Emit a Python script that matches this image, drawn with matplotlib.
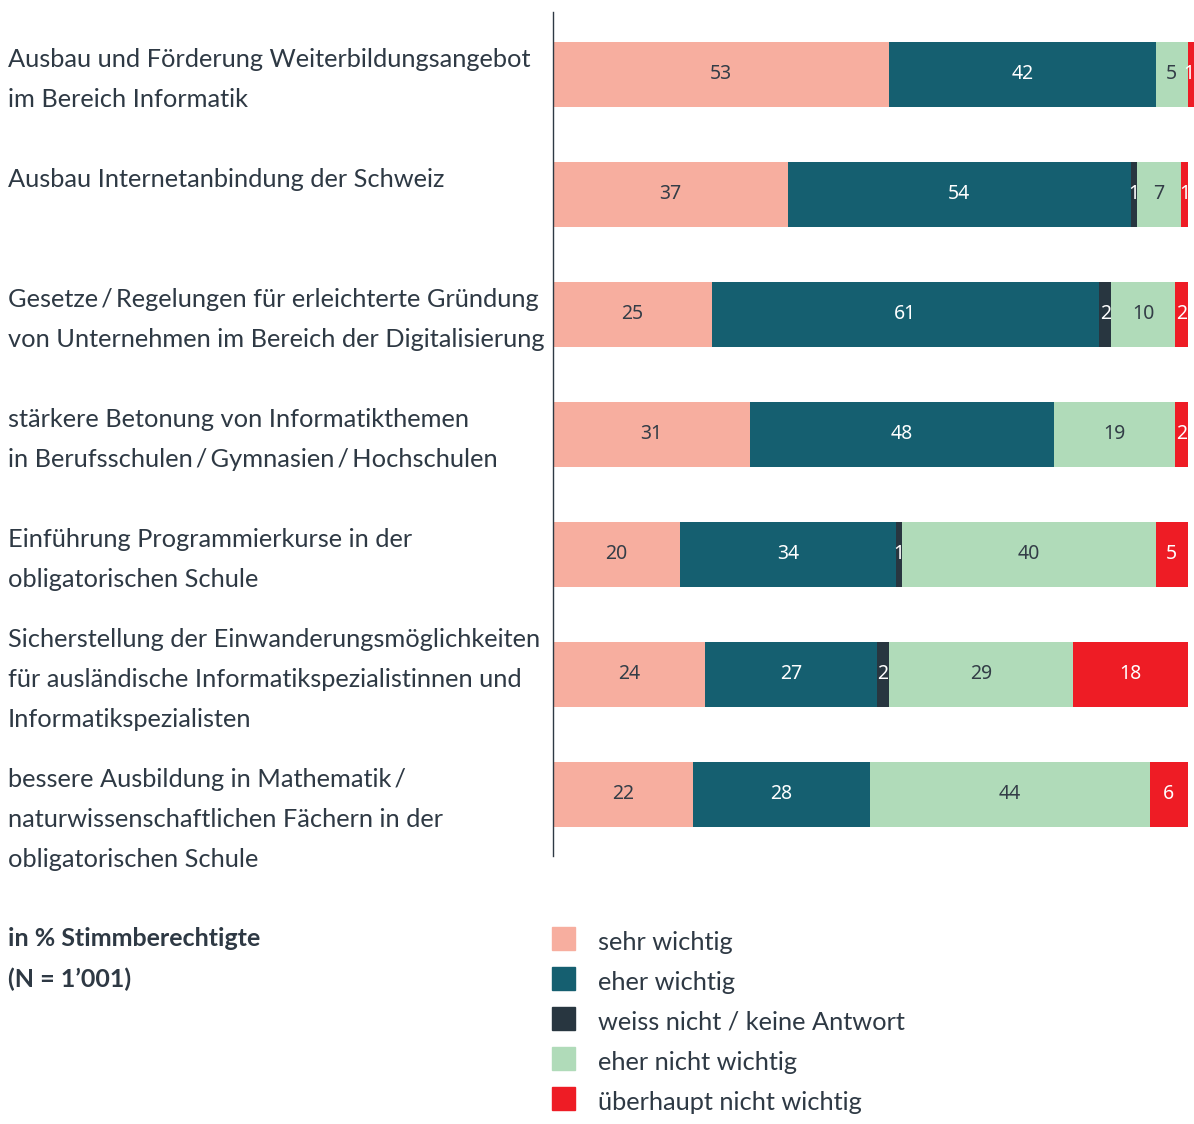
import matplotlib.pyplot as plt
from matplotlib.patches import Rectangle

W, H = 1194, 1124

categories = [
    ["Ausbau und Förderung Weiterbildungsangebot", "im Bereich Informatik"],
    ["Ausbau Internetanbindung der Schweiz"],
    ["Gesetze\u2009/\u2009Regelungen für erleichterte Gründung",
     "von Unternehmen im Bereich der Digitalisierung"],
    ["stärkere Betonung von Informatikthemen",
     "in Berufsschulen\u2009/\u2009Gymnasien\u2009/\u2009Hochschulen"],
    ["Einführung Programmierkurse in der", "obligatorischen Schule"],
    ["Sicherstellung der Einwanderungsmöglichkeiten",
     "für ausländische Informatikspezialistinnen und",
     "Informatikspezialisten"],
    ["bessere Ausbildung in Mathematik\u2009/",
     "naturwissenschaftlichen Fächern in der",
     "obligatorischen Schule"],
]

series = ["sehr wichtig", "eher wichtig", "weiss nicht / keine Antwort",
          "eher nicht wichtig", "überhaupt nicht wichtig"]
sehr_wichtig = [53, 37, 25, 31, 20, 24, 22]
eher_wichtig = [42, 54, 61, 48, 34, 27, 28]
weiss_nicht = [0, 1, 2, 0, 1, 2, 0]
eher_nicht = [5, 7, 10, 19, 40, 29, 44]
ueberhaupt_nicht = [1, 1, 2, 2, 5, 18, 6]
values = [sehr_wichtig, eher_wichtig, weiss_nicht, eher_nicht, ueberhaupt_nicht]

colors = ["#f7ae9f", "#155f70", "#283640", "#b0dbb9", "#ee1c25"]
label_colors = ["#333d47", "white", "white", "#333d47", "white"]
TEXT = "#2e3944"

plt.rcParams["font.family"] = ["Lato", "DejaVu Sans"]

fig = plt.figure(figsize=(W / 100, H / 100), dpi=100)
ax = fig.add_axes([553 / W, 1 - 856 / H, (1194 - 553) / W, (856 - 12) / H])

n = len(categories)
bar_h = 65 / 120
left = [0] * n
for s, vals in enumerate(values):
    ax.barh(range(n), vals, left=left, height=bar_h, color=colors[s],
            edgecolor="none")
    for i, v in enumerate(vals):
        if v > 0:
            xc = min(left[i] + v / 2, 100.2)
            ax.text(xc, i, str(v), ha="center", va="center",
                    fontsize=14, color=label_colors[s], family="Noto Sans")
    left = [a + b for a, b in zip(left, vals)]

ax.set_xlim(0, 101)
ax.set_ylim(n - 1 + 62 / 120, -62 / 120)
for side in ["top", "right", "bottom"]:
    ax.spines[side].set_visible(False)
ax.spines["left"].set_color(TEXT)
ax.spines["left"].set_linewidth(1)
ax.set_xticks([])
ax.set_yticks([])

# category labels, one line at a time
px = 101 / (1194 - 553)
line_step = 40 / 120
for i, lines in enumerate(categories):
    y0 = i - bar_h / 2 + 18 / 120
    if i == 5:
        y0 -= 20 / 120
    for k, line in enumerate(lines):
        ax.text(-545 * px, y0 + k * line_step, line, ha="left",
                va="center", fontsize=18.3, color=TEXT, clip_on=False)

# note
fig.text(8 / W, 1 - 939 / H, "in % Stimmberechtigte", fontsize=18,
         fontweight="bold", color=TEXT, va="center")
fig.text(8 / W, 1 - 979 / H, "(N = 1’001)", fontsize=18,
         fontweight="bold", color=TEXT, va="center")

# legend
for s, name in enumerate(series):
    yc = 938 + 40 * s
    fig.add_artist(Rectangle((552 / W, 1 - (yc + 11.5) / H), 23 / W, 23 / H,
                             transform=fig.transFigure, color=colors[s]))
    fig.text(598 / W, 1 - (yc + 4) / H, name, fontsize=18.3, color=TEXT,
             va="center")

fig.savefig("out.png", dpi=100)
